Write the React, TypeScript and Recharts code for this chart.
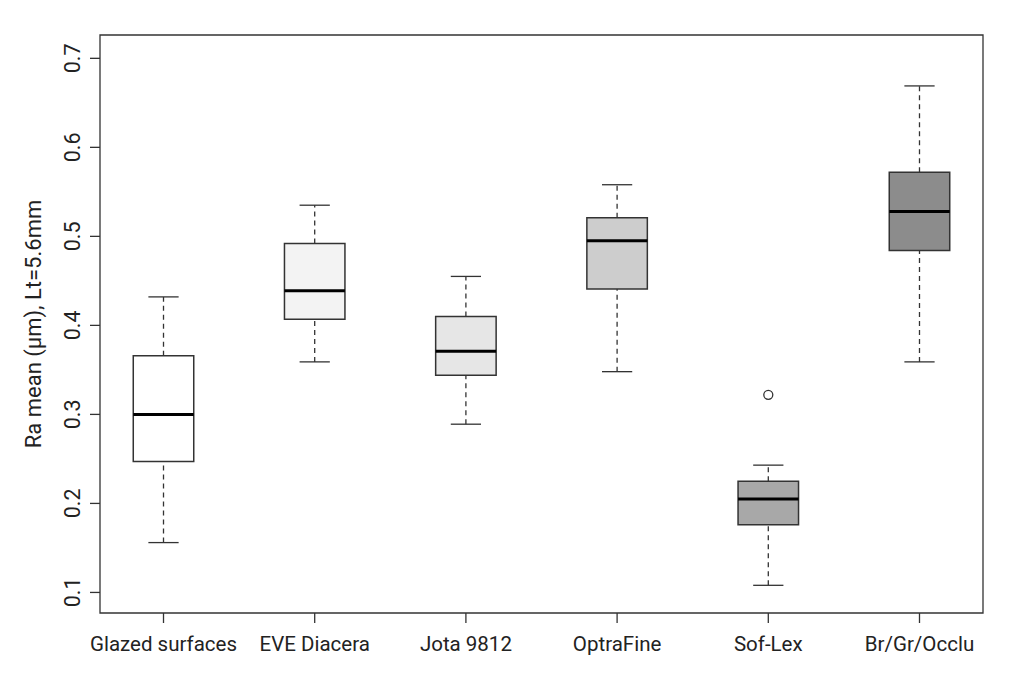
import React from 'react';
import {
	ComposedChart,
	XAxis,
	YAxis,
	Scatter,
	ReferenceArea,
	ReferenceLine,
} from 'recharts';

const categories = [
	'Glazed surfaces',
	'EVE Diacera',
	'Jota 9812',
	'OptraFine',
	'Sof-Lex',
	'Br/Gr/Occlu',
];
const whiskerLow = [0.156, 0.359, 0.289, 0.348, 0.108, 0.359];
const q1 = [0.247, 0.407, 0.344, 0.441, 0.176, 0.484];
const median = [0.3, 0.439, 0.371, 0.495, 0.205, 0.528];
const q3 = [0.366, 0.492, 0.41, 0.521, 0.225, 0.572];
const whiskerHigh = [0.432, 0.535, 0.455, 0.558, 0.243, 0.669];
const outlierCategory = ['Sof-Lex'];
const outlierValue = [0.322];
const yTicks = [0.1, 0.2, 0.3, 0.4, 0.5, 0.6, 0.7];

const boxFills = ['#ffffff', '#f3f3f3', '#e6e6e6', '#cdcdcd', '#a8a8a8', '#8c8c8c'];

const X_DOMAIN: [number, number] = [0.58, 6.42];
const Y_DOMAIN: [number, number] = [0.0769, 0.7262];
const HALF_BOX = 0.2;
const HALF_CAP = 0.1;
const FONT = 'Roboto, sans-serif';
const INK = '#333333';

const outliers = outlierValue.map((v, i) => ({
	pos: categories.indexOf(outlierCategory[i]) + 1,
	value: v,
}));

const XTick = ({ x, y, payload }: any) => (
	<text
		x={x}
		y={y + 28}
		textAnchor="middle"
		fontFamily={FONT}
		fontSize={20.5}
		fill="#222"
	>
		{categories[payload.value - 1]}
	</text>
);

const YTick = ({ x, y, payload }: any) => (
	<text
		x={x}
		y={y}
		transform={`rotate(-90, ${x}, ${y})`}
		textAnchor="middle"
		fontFamily={FONT}
		fontSize={21.5}
		fill="#222"
	>
		{payload.value.toFixed(1)}
	</text>
);

const YLabel = ({ viewBox }: any) => {
	const cy = viewBox.y + viewBox.height / 2;
	return (
		<text
			x={41}
			y={cy}
			transform={`rotate(-90, 41, ${cy})`}
			textAnchor="middle"
			fontFamily={FONT}
			fontSize={22}
			fill="#222"
		>
			Ra mean (μm), Lt=5.6mm
		</text>
	);
};

const OutlierDot = ({ cx, cy }: any) => (
	<circle cx={cx} cy={cy} r={4.5} fill="#fff" stroke={INK} strokeWidth={1.3} />
);

export default function App() {
	return (
		<div style={{ position: 'absolute', left: 0, top: 0, background: '#fff' }}>
			<ComposedChart
				width={1024}
				height={675}
				margin={{ top: 35, right: 41, bottom: 0, left: 0 }}
			>
				<XAxis
					type="number"
					dataKey="pos"
					domain={X_DOMAIN}
					ticks={[1, 2, 3, 4, 5, 6]}
					interval={0}
					allowDataOverflow
					axisLine={false}
					tickLine={{ stroke: INK, strokeWidth: 1.3 }}
					tickSize={10}
					tickMargin={0}
					height={62}
					tick={<XTick />}
				/>
				<YAxis
					type="number"
					dataKey="value"
					domain={Y_DOMAIN}
					ticks={yTicks}
					interval={0}
					allowDataOverflow
					axisLine={false}
					tickLine={{ stroke: INK, strokeWidth: 1.3 }}
					tickSize={10}
					tickMargin={10}
					width={100}
					tick={<YTick />}
					label={<YLabel />}
				/>

				{categories.map((c, i) => {
					const pos = i + 1;
					return (
						<React.Fragment key={c}>
							{/* whiskers */}
							<ReferenceLine
								segment={[
									{ x: pos, y: q3[i] },
									{ x: pos, y: whiskerHigh[i] },
								]}
								stroke={INK}
								strokeWidth={1.3}
								strokeDasharray="5 4"
							/>
							<ReferenceLine
								segment={[
									{ x: pos, y: whiskerLow[i] },
									{ x: pos, y: q1[i] },
								]}
								stroke={INK}
								strokeWidth={1.3}
								strokeDasharray="5 4"
							/>
							<ReferenceLine
								segment={[
									{ x: pos - HALF_CAP, y: whiskerHigh[i] },
									{ x: pos + HALF_CAP, y: whiskerHigh[i] },
								]}
								stroke={INK}
								strokeWidth={1.3}
							/>
							<ReferenceLine
								segment={[
									{ x: pos - HALF_CAP, y: whiskerLow[i] },
									{ x: pos + HALF_CAP, y: whiskerLow[i] },
								]}
								stroke={INK}
								strokeWidth={1.3}
							/>
							{/* box */}
							<ReferenceArea
								x1={pos - HALF_BOX}
								x2={pos + HALF_BOX}
								y1={q1[i]}
								y2={q3[i]}
								fill={boxFills[i]}
								fillOpacity={1}
								stroke={INK}
								strokeWidth={1.5}
							/>
							{/* median */}
							<ReferenceLine
								segment={[
									{ x: pos - HALF_BOX, y: median[i] },
									{ x: pos + HALF_BOX, y: median[i] },
								]}
								stroke="#000"
								strokeWidth={3}
							/>
						</React.Fragment>
					);
				})}

				<Scatter
					data={outliers}
					dataKey="value"
					shape={<OutlierDot />}
					isAnimationActive={false}
				/>

				{/* frame */}
				<ReferenceArea
					x1={X_DOMAIN[0]}
					x2={X_DOMAIN[1]}
					y1={Y_DOMAIN[0]}
					y2={Y_DOMAIN[1]}
					fill="none"
					stroke={INK}
					strokeWidth={1.3}
				/>
			</ComposedChart>
		</div>
	);
}
